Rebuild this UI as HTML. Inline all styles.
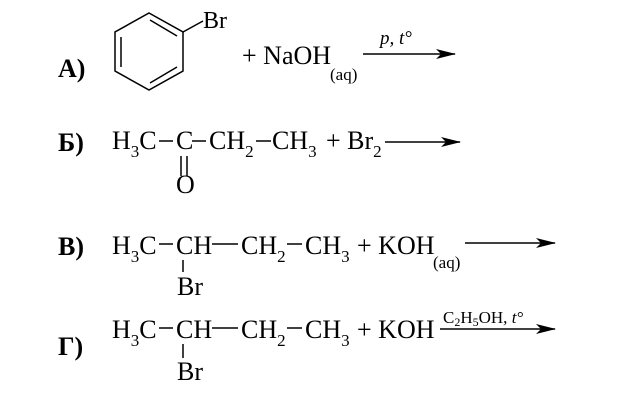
<!DOCTYPE html>
<html><head><meta charset="utf-8"><style>
html,body{margin:0;padding:0;background:#fff}
svg{display:block}
text{font-family:"Liberation Serif",serif;font-size:26px;fill:#000}
.b{font-weight:bold}
.s{font-size:17px}
</style></head><body>
<svg width="619" height="406" viewBox="0 0 619 406" xmlns="http://www.w3.org/2000/svg">
<defs><marker id="ah" markerWidth="20" markerHeight="10" refX="19" refY="5" orient="auto" markerUnits="userSpaceOnUse"><path d="M0,0 L20,5 L0,10 L5,5 z" fill="#000"/></marker></defs>
<g stroke="#000" stroke-width="1.5" fill="none">
<polygon points="149,13 183,32 183,71 149,90 115,71 115,32"/>
<line x1="121" y1="37" x2="121" y2="67"/>
<line x1="150" y1="20" x2="177" y2="36"/>
<line x1="150" y1="83" x2="177" y2="67"/>
<line x1="183" y1="32" x2="203" y2="21"/>
<line x1="363" y1="54" x2="455" y2="54" marker-end="url(#ah)"/>
<line x1="385" y1="142" x2="460" y2="142" marker-end="url(#ah)"/>
<line x1="465" y1="243" x2="555" y2="243" marker-end="url(#ah)"/>
<line x1="440" y1="329" x2="555" y2="329" marker-end="url(#ah)"/>
<line x1="159" y1="141" x2="173" y2="141"/>
<line x1="192" y1="141" x2="206" y2="141"/>
<line x1="256" y1="141" x2="271" y2="141"/>
<line x1="181" y1="156" x2="181" y2="176"/>
<line x1="187" y1="156" x2="187" y2="176"/>
<line x1="159" y1="244" x2="173" y2="244"/>
<line x1="212" y1="244" x2="238" y2="244"/>
<line x1="287" y1="244" x2="302" y2="244"/>
<line x1="183" y1="260" x2="183" y2="272"/>
<line x1="159" y1="328" x2="173" y2="328"/>
<line x1="212" y1="328" x2="238" y2="328"/>
<line x1="287" y1="328" x2="302" y2="328"/>
<line x1="183" y1="344" x2="183" y2="358"/>
</g>
<text x="58" y="77" class="b">А)</text>
<text x="203" y="28" style="font-size:24px">Br</text>
<text x="242" y="64">+ NaOH</text>
<text x="330" y="80" class="s">(aq)</text>
<text x="380" y="44" style="font-size:19px;font-style:italic">p, t°</text>

<text x="58" y="151" class="b">Б)</text>
<text x="112" y="149">H<tspan class="s" dy="8">3</tspan><tspan dy="-8">C</tspan></text>
<text x="176" y="149">C</text>
<text x="209" y="149">CH<tspan class="s" dy="8">2</tspan></text>
<text x="272" y="149">CH<tspan class="s" dy="8">3</tspan></text>
<text x="326" y="149">+ Br<tspan class="s" dy="8">2</tspan></text>
<text x="176" y="193">O</text>

<text x="58" y="255" class="b">В)</text>
<text x="112" y="254">H<tspan class="s" dy="8">3</tspan><tspan dy="-8">C</tspan></text>
<text x="176" y="254">CH</text>
<text x="241" y="254">CH<tspan class="s" dy="8">2</tspan></text>
<text x="305" y="254">CH<tspan class="s" dy="8">3</tspan></text>
<text x="357" y="254">+ KOH</text>
<text x="433" y="268" class="s">(aq)</text>
<text x="177" y="295">Br</text>

<text x="58" y="355" class="b">Г)</text>
<text x="112" y="338">H<tspan class="s" dy="8">3</tspan><tspan dy="-8">C</tspan></text>
<text x="176" y="338">CH</text>
<text x="241" y="338">CH<tspan class="s" dy="8">2</tspan></text>
<text x="305" y="338">CH<tspan class="s" dy="8">3</tspan></text>
<text x="357" y="338">+ KOH</text>
<text x="443" y="323" style="font-size:17px">C<tspan dy="3" style="font-size:12px">2</tspan><tspan dy="-3">H</tspan><tspan dy="3" style="font-size:12px">5</tspan><tspan dy="-3">OH, </tspan><tspan font-style="italic">t°</tspan></text>
<text x="177" y="380">Br</text>
</svg>
</body></html>
